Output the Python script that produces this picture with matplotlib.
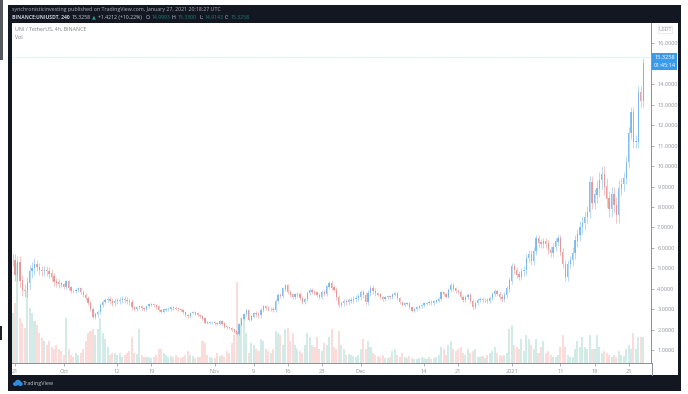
#!/usr/bin/env python3
"""
UNI / TetherUS 4h TradingView snapshot, candles sampled every 12 hours.
"""
import numpy as np
import matplotlib
matplotlib.use("Agg")
import matplotlib.pyplot as plt
from matplotlib.patches import Rectangle, Ellipse

DARK = "#131722"
UP = "#6fb4ee"
DOWN = "#e88e8e"
VOL_UP = "#d3ebe6"
VOL_DOWN = "#fadcda"
GREY = "#92969f"

# closes, one every half day starting just before Sep 21
closes = [
    5.4, 4.7, 5.3, 4.4, 3.95, 3.9, 4.3, 4.85, 5.0, 5.2,
    5.05, 4.9, 4.85, 4.9, 4.85, 4.75, 4.6, 4.35, 4.3, 4.25,
    4.2, 4.1, 4.35, 4.05, 3.9, 3.88, 3.95, 4.0, 3.85, 3.7,
    3.55, 3.3, 3.0, 2.65, 2.75, 2.85, 3.2, 3.35, 3.45, 3.5,
    3.4, 3.33, 3.4, 3.42, 3.45, 3.48, 3.45, 3.4, 3.35, 3.1,
    3.02, 3.1, 3.12, 3.05, 3.02, 3.15, 3.22, 3.25, 3.2, 3.12,
    2.95, 2.88, 2.98, 3.0, 3.02, 3.1, 3.06, 3.03, 3.0, 2.95,
    2.85, 2.72, 2.66, 2.82, 2.87, 2.78, 2.72, 2.66, 2.55, 2.35,
    2.33, 2.36, 2.38, 2.32, 2.28, 2.42, 2.3, 2.16, 2.12, 2.08,
    2.0, 1.9, 1.8, 2.25, 2.55, 2.75, 2.95, 2.5, 2.65, 2.8,
    2.75, 2.7, 2.95, 3.12, 3.05, 3.0, 3.02, 2.97, 3.4, 3.7,
    3.65, 4.0, 4.15, 3.85, 3.72, 3.62, 3.72, 3.75, 3.55, 3.38,
    3.5, 3.78, 3.95, 3.85, 3.82, 3.7, 3.62, 3.85, 3.75, 4.1,
    4.25, 4.05, 3.95, 3.6, 3.22, 3.3, 3.37, 3.35, 3.42, 3.46,
    3.5, 3.55, 3.62, 3.82, 3.7, 3.38, 3.8, 4.04, 3.9, 3.8,
    3.72, 3.58, 3.5, 3.6, 3.65, 3.58, 3.72, 3.8, 3.55, 3.35,
    3.22, 3.28, 3.3, 3.1, 2.93, 3.0, 3.08, 3.15, 3.2, 3.28,
    3.3, 3.36, 3.3, 3.38, 3.42, 3.5, 3.82, 3.75, 3.62, 3.95,
    4.19, 4.0, 3.9, 3.85, 3.6, 3.47, 3.6, 3.7, 3.4, 3.1,
    3.3, 3.46, 3.5, 3.45, 3.46, 3.42, 3.55, 3.75, 3.9, 3.75,
    3.6, 3.5, 3.7, 4.0, 4.4, 5.1, 4.9, 4.7, 4.6, 4.85,
    4.9, 5.5, 5.7, 5.35, 5.85, 6.45, 6.25, 6.2, 6.3, 6.2,
    5.9, 5.75, 6.05, 6.3, 6.45, 5.8, 5.2, 4.6, 5.2, 5.4,
    5.75, 6.35, 6.65, 7.0, 7.2, 7.5, 7.75, 9.2, 8.2, 8.6,
    8.9, 9.3, 9.6, 9.0, 8.4, 7.9, 8.6, 8.1, 7.6, 8.9,
    9.1, 9.4, 10.2, 11.6, 12.6, 11.2, 11.2, 13.6, 13.2, 15.0,
]

# wick length over each stretch of ten bars
wicks = [
    0.3, 0.2, 0.1, 0.1, 0.15, 0.08, 0.08, 0.07, 0.06, 0.06,
    0.1, 0.1, 0.1, 0.12, 0.15, 0.07, 0.08, 0.08, 0.1, 0.1,
    0.15, 0.2, 0.2, 0.3, 0.4, 0.3,
]

# volume, scaled so a unit is one row of the 394 px snapshot
volumes = [
    50, 60, 100, 45, 40, 35, 72, 55, 50, 42,
    38, 30, 25, 22, 18, 22, 16, 14, 18, 14,
    12, 8, 45, 14, 8, 6, 10, 8, 10, 14,
    22, 30, 32, 34, 28, 34, 45, 30, 24, 16,
    8, 10, 10, 8, 10, 6, 8, 10, 12, 26,
    10, 9, 34, 8, 6, 6, 6, 5, 6, 8,
    14, 14, 10, 8, 6, 7, 6, 8, 6, 5,
    6, 8, 12, 8, 7, 5, 6, 6, 22, 20,
    8, 6, 5, 5, 10, 7, 8, 6, 12, 10,
    20, 28, 81, 35, 45, 45, 30, 10, 20, 18,
    14, 12, 24, 22, 14, 12, 10, 14, 32, 30,
    28, 18, 34, 35, 22, 30, 18, 14, 12, 10,
    18, 30, 26, 18, 16, 26, 14, 12, 20, 18,
    26, 34, 16, 14, 32, 18, 14, 8, 9, 8,
    7, 6, 8, 14, 24, 14, 22, 16, 10, 8,
    7, 6, 8, 5, 5, 6, 12, 14, 8, 6,
    10, 6, 5, 7, 5, 4, 4, 5, 6, 5,
    4, 6, 4, 5, 6, 8, 16, 14, 8, 18,
    22, 14, 12, 14, 16, 10, 8, 14, 10, 12,
    14, 6, 6, 7, 5, 8, 10, 12, 16, 10,
    8, 7, 8, 10, 34, 38, 18, 16, 14, 24,
    12, 28, 24, 18, 14, 24, 10, 16, 22, 10,
    12, 8, 6, 6, 8, 16, 28, 16, 8, 6,
    6, 14, 22, 16, 26, 16, 14, 28, 14, 14,
    28, 16, 10, 12, 10, 8, 6, 8, 6, 12,
    8, 7, 14, 18, 14, 30, 14, 26, 26, 26,
]

tick_days = [0, 10, 21, 28, 41, 49, 56, 63, 71, 84, 91, 102, 112, 119, 126]
tick_labels = ["21", "Oct", "12", "19", "Nov", "9", "16", "23", "Dec",
               "14", "21", "2021", "11", "18", "25"]
price_ticks = [1, 2, 3, 4, 5, 6, 7, 8, 9, 10, 11, 12, 13, 14, 16]
last_price = 15.3258

W, H = 688, 394
plt.rcParams["font.family"] = ["Open Sans", "DejaVu Sans"]
fig = plt.figure(figsize=(W / 100, H / 100), dpi=100, facecolor="white")

# snapshot frame, in pixel coordinates
bg = fig.add_axes([0, 0, 1, 1])
bg.set_xlim(0, W)
bg.set_ylim(H, 0)
bg.axis("off")
bg.add_patch(Rectangle((8, 5), 673, 386, color=DARK, lw=0))
bg.add_patch(Rectangle((12, 23), 666, 352, color="white", lw=0))
bg.add_patch(Rectangle((0, 0), 2.5, 60, color="#55585c", lw=0))
bg.add_patch(Rectangle((0, 326), 2, 14, color="#222222", lw=0))

bg.text(12, 9.5, "synchronisticinvesting published on TradingView.com, January 27, 2021 20:18:27 UTC",
        color="#aeb2bc", fontsize=3.75, va="center")
bg.text(12, 17, "BINANCE:UNIUSDT, 240", color="#c8ccd6", fontsize=3.65, va="center", fontweight="bold")
bg.text(72, 17, "15.3258", color="#c8ccd6", fontsize=3.7, va="center")
bg.text(91.5, 17, "▲", color="#2a9d8f", fontsize=3.6, va="center")
bg.text(98, 17, "+1.4212 (+10.22%)", color="#c8ccd6", fontsize=3.7, va="center")
for x, lab, val in [(146, "O:", "14.9993"), (172, "H:", "15.3300"), (199, "L:", "14.9143"), (225, "C:", "15.3258")]:
    bg.text(x, 17, lab, color="#c8ccd6", fontsize=3.7, va="center")
    bg.text(x + 6, 17, val, color="#1f7f78", fontsize=3.7, va="center")

bg.text(15, 29.5, "UNI / TetherUS, 4h, BINANCE", color="#7c808a", fontsize=3.8, va="center")
bg.text(15, 37.5, "Vol", color="#7c808a", fontsize=3.8, va="center")

# TradingView mark
for cx, cy, w, h in [(15.5, 384, 5, 4), (18, 382.5, 6, 5.5), (20.5, 384, 4.5, 4)]:
    bg.add_patch(Ellipse((cx, cy), w, h, color="#2e8fe0", lw=0))
bg.text(23, 383, "TradingView", color="#c4c8d0", fontsize=3.9, va="center")

# chart area runs from x=12 to 651 and y=23 to 362.7
ax = fig.add_axes([12 / W, 1 - 362.7 / H, 639 / W, 339.7 / H])
ax.patch.set_alpha(0)
ax.set_xlim(-0.616, 130.6)
ax.set_ylim(0.394, 16.99)

days = -0.5 + 0.5 * np.arange(len(closes))
c = np.array(closes)
o = np.r_[c[0], c[:-1]]
w = np.repeat(wicks, 10)[:len(c)]
rising = c >= o
cols = np.where(rising, UP, DOWN)

# volume on its own scale, behind the candles
vx = ax.twinx()
vx.set_ylim(0, 339.7)
vx.axis("off")
vx.bar(days, volumes[:len(days)], width=0.42,
       color=np.where(rising, VOL_UP, VOL_DOWN)[:len(volumes)], lw=0)
ax.set_zorder(vx.get_zorder() + 1)

ax.vlines(days, np.minimum(o, c) - w, np.maximum(o, c) + w, colors=cols, lw=0.5, alpha=0.7)
ax.bar(days, np.abs(c - o) + 0.02, bottom=np.minimum(o, c), width=0.26, color=cols, lw=0, alpha=0.85)
ax.axhline(last_price, color="#bcdff5", lw=0.6, ls=(0, (1, 1)))

ax.yaxis.tick_right()
ax.set_yticks(price_ticks)
ax.set_yticklabels([f"{p:.4f}" for p in price_ticks])
ax.set_xticks(tick_days)
ax.set_xticklabels(tick_labels)
ax.tick_params(axis="both", colors="#8a8e98", length=2, width=0.5, labelsize=4.1, pad=2.5, labelcolor=GREY)
for name in ("top", "left"):
    ax.spines[name].set_visible(False)
for name in ("right", "bottom"):
    ax.spines[name].set_color("#8a8e98")
    ax.spines[name].set_linewidth(0.7)

# price axis extras, over everything else
top = fig.add_axes([0, 0, 1, 1])
top.set_xlim(0, W)
top.set_ylim(H, 0)
top.axis("off")
top.patch.set_alpha(0)
top.plot([651.5, 651.5], [362.7, 375], color="#8a8e98", lw=0.7)
top.add_patch(Rectangle((652, 53), 25, 17, color="#3c9be8", lw=0))
top.text(664.5, 57.5, "15.3258", color="white", fontsize=4.1, ha="center", va="center")
top.text(664.5, 65.5, "01:45:14", color="white", fontsize=4.1, ha="center", va="center")
top.add_patch(Rectangle((658, 26), 14, 7, facecolor="white", edgecolor="#dddddd", lw=0.4))
top.text(665, 29.5, "USDT", color=GREY, fontsize=3.8, ha="center", va="center")

fig.savefig("out.png", dpi=100, facecolor="white")
